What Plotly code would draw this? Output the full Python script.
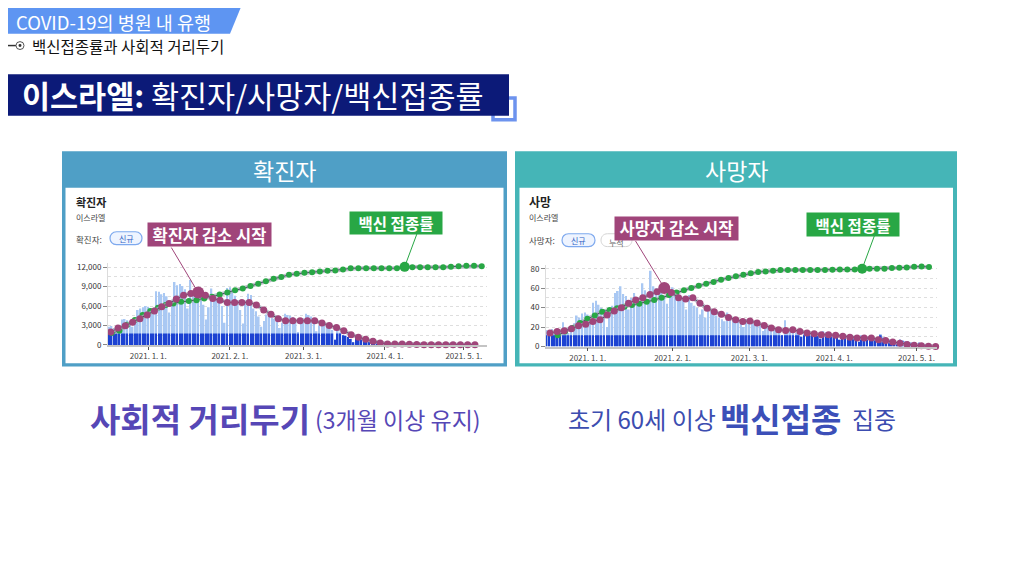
import pandas as pd
import plotly.graph_objects as go

W, H = 1024, 576
OFF = 8  # 페이지 기본 여백만큼 보정
FONT = "Noto Sans CJK KR"

PURPLE = "#a0457a"
GREEN = "#28a745"
LIGHT_BAR = "#a9c8f3"
DARK_BAR = "#1c42d2"


def X(p):
    return (p - OFF) / W


def Y(p):
    return 1 - (p - OFF) / H


# ---- 데이터 ----
day_dates = pd.date_range("2020-12-17", periods=141, freq="D")

cases_daily = [
    2800, 2900, 2600, 2200, 3000, 3900, 4000,
    3800, 3500, 2800, 3900, 5400, 5600, 5800, 6000,
    5900, 4800, 5500, 8300, 8200, 7800, 8000,
    7500, 5000, 6500, 9700, 9200, 9400, 9100,
    8600, 5600, 10000, 7500, 8200, 8800, 7600,
    6200, 3900, 5800, 8700, 7800, 7200, 6900,
    6000, 3400, 8800, 8900, 8300, 7600, 6900,
    5400, 3300, 6800, 7900, 7700, 5600, 5200,
    4400, 2800, 3700, 4700, 4500, 4200, 4000,
    3600, 2600, 3400, 4800, 4600, 4500, 4300,
    3500, 2000, 3300, 4100, 4800, 4600, 4400,
    3900, 2100, 3000, 3400, 3100, 2800, 2700,
    2300, 800, 2300, 1900, 1500, 1400, 1200,
    900, 400, 1100, 1000, 900, 800, 700,
    500, 200, 600, 500, 450, 400, 350,
    250, 100, 300, 350, 300, 280, 250,
    200, 80, 250, 230, 200, 180, 160,
    130, 50, 150, 140, 130, 120, 110,
    90, 40, 110, 100, 90, 80, 80,
    60, 30, 80, 70, 60, 60, 50,
]

cases_base = [
    1750, 1750, 1750, 1750, 1750, 1750, 1750, 1750, 1750, 1750, 1750, 1750, 1750, 1750,
    1750, 1750, 1750, 1750, 1750, 1750, 1750, 1750, 1750, 1750, 1750, 1750, 1750, 1750,
    1750, 1750, 1750, 1750, 1750, 1750, 1750, 1750, 1750, 1750, 1750, 1750, 1750, 1750,
    1750, 1750, 1750, 1750, 1750, 1750, 1750, 1750, 1750, 1750, 1750, 1750, 1750, 1750,
    1750, 1750, 1750, 1750, 1750, 1750, 1750, 1750, 1750, 1750, 1750, 1750, 1750, 1750,
    1750, 1750, 1750, 1750, 1750, 1750, 1750, 1750, 1750, 1750, 1750, 1750, 1750, 1750,
    1750, 1750,
    800, 1750, 1750, 1500, 1400, 1200,
    900, 400, 1100, 1000, 900, 800, 700,
    500, 200, 600, 500, 450, 400, 350,
    250, 100, 300, 350, 300, 280, 250,
    200, 80, 250, 230, 200, 180, 160,
    130, 50, 150, 140, 130, 120, 110,
    90, 40, 110, 100, 90, 80, 80,
    60, 30, 80, 70, 60, 60, 50,
]

deaths_daily = [
    17, 16, 18, 15, 17, 16, 25,
    18, 14, 22, 24, 32, 30, 34, 35,
    33, 28, 45, 47, 43, 40, 38,
    20, 35, 42, 55, 57, 62, 54,
    52, 38, 50, 55, 48, 45, 65,
    58, 49, 78, 62, 60, 56, 55,
    52, 44, 58, 61, 58, 55, 50,
    48, 38, 53, 45, 42, 40, 33,
    38, 30, 42, 36, 33, 32, 30,
    28, 26, 35, 30, 29, 28, 27,
    26, 20, 28, 25, 24, 23, 22,
    22, 16, 21, 20, 19, 18, 18,
    17, 12, 27, 18, 16, 15, 14,
    14, 10, 15, 14, 13, 12, 12,
    12, 8, 16, 15, 13, 12, 12,
    11, 7, 13, 12, 11, 10, 10,
    9, 5, 11, 10, 9, 8, 8,
    8, 4, 13, 9, 8, 7, 6,
    6, 3, 7, 6, 5, 5, 4,
    3, 2, 4, 3, 2, 2, 2,
]

deaths_base = [
    11.5, 11.5, 11.5, 11.5, 11.5, 11.5, 11.5, 11.5, 11.5, 11.5, 11.5, 11.5, 11.5, 11.5, 11.5,
    11.5, 11.5, 11.5, 11.5, 11.5, 11.5, 11.5, 11.5, 11.5, 11.5, 11.5, 11.5, 11.5, 11.5, 11.5,
    11.5, 11.5, 11.5, 11.5, 11.5, 11.5, 11.5, 11.5, 11.5, 11.5, 11.5, 11.5, 11.5, 11.5, 11.5,
    11.5, 11.5, 11.5, 11.5, 11.5, 11.5, 11.5, 11.5, 11.5, 11.5, 11.5, 11.5, 11.5, 11.5, 11.5,
    11.5, 11.5, 11.5, 11.5, 11.5, 11.5, 11.5, 11.5, 11.5, 11.5, 11.5, 11.5, 11.5, 11.5, 11.5,
    11.5, 11.5, 11.5, 11.5, 11.5, 11.5, 11.5, 11.5, 11.5, 11.5, 11.5, 11.5, 11.5, 11.5, 11.5,
    11.5, 11.5, 11.5,
    10, 11.5, 11.5, 11.5, 11.5, 11.5,
    11.5, 8, 11.5, 11.5, 11.5, 11.5, 11.5,
    11, 7, 11.5, 11.5, 11, 10, 10,
    9, 5, 11, 10, 9, 8, 8,
    8, 4, 11.5, 9, 8, 7, 6,
    6, 3, 7, 6, 5, 5, 4,
    3, 2, 4, 3, 2, 2, 2,
]

# 확진자 추세 (보라 점) / 백신 접종률 (초록 점, 확진자 축 기준)
cases_trend = [
    1980, 2590, 2950, 3510, 4020, 4630, 5240, 5900, 6400, 7070,
    7680, 7930, 8080, 7680, 7170, 6910, 6560, 6560, 6560, 6560,
    6150, 5390, 4730, 4020, 3710, 3710, 3710, 3710, 3710, 3360,
    3000, 2690, 2190, 1580, 1170, 860, 560, 300, 150, 150,
    150, 100, 50, 30, 30, 30, 30, 30, 20, 20, 20,
]
cases_vax = [
    1830, 2190, 3100, 3860, 4630, 5240, 5740, 6150, 6400, 6660,
    6760, 6910, 7170, 7420, 7780, 8080, 8440, 8690, 9100, 9450,
    9810, 10220, 10470, 10830, 10980, 11130, 11230, 11340, 11440, 11490,
    11640, 11840, 11840, 11840, 11840, 11840, 11840, 11840, 12050, 12000,
    12000, 12000, 12000, 12000, 12050, 12150, 12200, 12200, 12150,
]
deaths_trend = [
    13.9, 15.6, 16.3, 18.3, 21.4, 23.0, 25.8, 27.5, 32.5, 36.6,
    40.0, 44.4, 47.8, 50.2, 53.6, 56.3, 60.3, 55.6, 50.2, 48.8,
    50.2, 44.4, 39.3, 35.9, 33.2, 29.8, 27.5, 25.8, 26.4, 24.1,
    21.7, 19.0, 17.3, 16.6, 17.3, 15.6, 13.9, 13.2, 12.2, 12.2,
    11.5, 10.5, 9.5, 8.8, 8.8, 8.8, 7.1, 6.1, 4.7, 3.4,
    2.0, 1.4, 0.7, 0.3, 0.0,
]
deaths_vax = [
    11.5, 15.6, 19.0, 24.1, 28.5, 31.9, 35.9, 37.6, 39.3, 41.0,
    42.7, 44.1, 46.1, 47.8, 50.2, 52.9, 55.6, 58.0, 60.3, 62.4,
    64.7, 66.4, 68.8, 70.5, 72.2, 73.9, 75.3, 76.6, 77.3, 78.0,
    78.6, 78.6, 78.6, 78.6, 78.6, 78.6, 78.6, 79.0, 79.3, 79.3,
    79.3, 80.0, 80.0, 80.0, 80.0, 80.7, 81.0, 81.4, 82.0, 82.4, 81.7,
]

cases_trend_dates = pd.date_range("2020-12-17 17:00", "2021-05-05 05:00", periods=len(cases_trend))
cases_vax_dates = pd.date_range("2020-12-18 02:00", "2021-05-07 19:00", periods=len(cases_vax))
deaths_trend_dates = pd.date_range("2020-12-18 06:00", "2021-05-08 00:00", periods=len(deaths_trend))
deaths_vax_dates = pd.date_range("2020-12-21 01:00", "2021-05-05 14:00", periods=len(deaths_vax))

# 강조 점 (주석이 가리키는 점)
cases_peak_idx = 12
cases_vax_idx = 38
deaths_peak_idx = 16
deaths_vax_idx = 41

month_ticks = ["2021-01-01", "2021-02-01", "2021-03-01", "2021-04-01", "2021-05-01"]
month_labels = ["2021. 1. 1.", "2021. 2. 1.", "2021. 3. 1.", "2021. 4. 1.", "2021. 5. 1."]
cases_ticks = [0, 3000, 6000, 9000, 12000]
cases_tick_labels = ["0", "3,000", "6,000", "9,000", "12,000"]
deaths_ticks = [0, 20, 40, 60, 80]


def sizes(n, idx, normal, big):
    return [big if i == idx else normal for i in range(n)]


def pill(x0, y0, x1, y1):
    r = (y1 - y0) / 2
    return (
        f"M {X(x0 + r)},{Y(y0)} L {X(x1 - r)},{Y(y0)} "
        f"C {X(x1 + r * 0.33)},{Y(y0)} {X(x1 + r * 0.33)},{Y(y1)} {X(x1 - r)},{Y(y1)} "
        f"L {X(x0 + r)},{Y(y1)} "
        f"C {X(x0 - r * 0.33)},{Y(y1)} {X(x0 - r * 0.33)},{Y(y0)} {X(x0 + r)},{Y(y0)} Z"
    )


fig = go.Figure()

BAR_W = 0.62 * 86400000


def add_chart(xa, ya, daily, base, trend, trend_dates, tidx, vax, vax_dates, vidx):
    fig.add_trace(go.Bar(x=day_dates, y=daily, width=BAR_W, marker_color=LIGHT_BAR,
                         marker_line_width=0, xaxis=xa, yaxis=ya))
    fig.add_trace(go.Bar(x=day_dates, y=base, width=BAR_W, marker_color=DARK_BAR,
                         marker_line_width=0, xaxis=xa, yaxis=ya))
    # 회색 띠 + 점
    for dates, vals, color, idx, n_size, b_size in [
        (vax_dates, vax, GREEN, vidx, 6, 10),
        (trend_dates, trend, PURPLE, tidx, 7, 12),
    ]:
        fig.add_trace(go.Scatter(x=dates, y=vals, mode="lines", xaxis=xa, yaxis=ya,
                                 line=dict(color="rgba(170,172,185,0.75)", width=4),
                                 cliponaxis=False))
        fig.add_trace(go.Scatter(x=dates, y=vals, mode="lines+markers", xaxis=xa, yaxis=ya,
                                 line=dict(color="#4a4f66", width=1),
                                 marker=dict(color=color, size=sizes(len(vals), idx, n_size, b_size),
                                             line_width=0, opacity=1),
                                 cliponaxis=False))


add_chart("x", "y", cases_daily, cases_base, cases_trend, cases_trend_dates, cases_peak_idx,
          cases_vax, cases_vax_dates, cases_vax_idx)
add_chart("x2", "y2", deaths_daily, deaths_base, deaths_trend, deaths_trend_dates, deaths_peak_idx,
          deaths_vax, deaths_vax_dates, deaths_vax_idx)

xaxis_base = dict(
    type="date", showgrid=False, showline=True, linecolor="#c4c4c4", linewidth=1.5,
    ticks="outside", ticklen=3, tickcolor="#555", tickvals=month_ticks, ticktext=month_labels,
    tickfont=dict(size=8, color="#444", family=FONT), zeroline=False,
)
yaxis_base = dict(
    showgrid=True, gridcolor="#dedede", griddash="dot", zeroline=False,
    showline=True, linecolor="#dcdcdc", linewidth=1,
    ticks="outside", ticklen=4, tickcolor="#888",
    tickfont=dict(size=8, color="#333", family=FONT),
)

fig.update_layout(
    width=W, height=H, autosize=False,
    margin=dict(l=0, r=0, t=0, b=0),
    paper_bgcolor="white", plot_bgcolor="rgba(0,0,0,0)",
    showlegend=False, barmode="overlay", hovermode=False,
    font=dict(family=FONT),
    xaxis=dict(xaxis_base, domain=[X(108), X(487)], anchor="y",
               range=["2020-12-16 16:00", "2021-05-09 19:00"]),
    yaxis=dict(yaxis_base, domain=[Y(347), Y(264.4)], anchor="x", range=[0, 12600],
               tickvals=cases_ticks, ticktext=cases_tick_labels,
               minor=dict(dtick=1500, showgrid=True, gridcolor="#dedede", griddash="dot")),
    xaxis2=dict(xaxis_base, domain=[X(546), X(937)], anchor="y2",
                range=["2020-12-16 19:00", "2021-05-08 12:00"]),
    yaxis2=dict(yaxis_base, domain=[Y(348.7), Y(266)], anchor="x2", range=[0, 84],
                tickvals=deaths_ticks,
                minor=dict(dtick=10, showgrid=True, gridcolor="#dedede", griddash="dot")),
)

# ---- 도형 ----
shapes = [
    # 상단 배너
    dict(type="path", path=f"M {X(0)},{Y(0)} L {X(243)},{Y(0)} L {X(230)},{Y(32)} L {X(0)},{Y(32)} Z",
         fillcolor="#5e95f2", line_width=0),
    # 부제 표시
    dict(type="line", x0=X(0), x1=X(16), y0=Y(44), y1=Y(44), line=dict(color="#333", width=1.5)),
    dict(type="circle", x0=X(16), x1=X(24), y0=Y(40), y1=Y(48), fillcolor="white",
         line=dict(color="#555", width=1)),
    dict(type="circle", x0=X(18.5), x1=X(21.5), y0=Y(42.5), y1=Y(45.5), fillcolor="#333",
         line_width=0),
    # 제목 상자
    dict(type="rect", x0=X(493), x1=X(515), y0=Y(97), y1=Y(119), line=dict(color="#6d93ee", width=3.5)),
    dict(type="rect", x0=X(0), x1=X(509), y0=Y(73), y1=Y(115), fillcolor="#0c1a78", line_width=0),
    # 패널
    dict(type="rect", x0=X(62), x1=X(507), y0=Y(151), y1=Y(369), fillcolor="#4f9fc6",
         line_width=0, layer="below"),
    dict(type="rect", x0=X(65.5), x1=X(503.5), y0=Y(188), y1=Y(365.5), fillcolor="white",
         line_width=0, layer="below"),
    dict(type="rect", x0=X(515), x1=X(957), y0=Y(151), y1=Y(369), fillcolor="#45b5b7",
         line_width=0, layer="below"),
    dict(type="rect", x0=X(519.5), x1=X(953), y0=Y(188), y1=Y(365.5), fillcolor="white",
         line_width=0, layer="below"),
    # 버튼 모양
    dict(type="path", path=pill(110, 232.5, 142, 245.5), fillcolor="#eef4ff",
         line=dict(color="#7ea9ee", width=1.2)),
    dict(type="path", path=pill(562, 234.5, 595, 247.5), fillcolor="#eef4ff",
         line=dict(color="#7ea9ee", width=1.2)),
    dict(type="path", path=pill(601, 234.5, 632, 247.5), fillcolor="white",
         line=dict(color="#d4d4d4", width=1)),
]
for s in shapes:
    s["xref"] = "paper"
    s["yref"] = "paper"
fig.update_layout(shapes=shapes)


def text(x, y, s, size, color, anchor="left", **kw):
    fig.add_annotation(x=X(x), y=Y(y), xref="paper", yref="paper", text=s, showarrow=False,
                       xanchor=anchor, yanchor="middle",
                       font=dict(size=size, color=color, family=FONT), **kw)


def label(x, y, s, size, bg, w, h):
    fig.add_annotation(x=X(x), y=Y(y), xref="paper", yref="paper", text=f"<b>{s}</b>",
                       showarrow=False, bgcolor=bg, width=w, height=h, borderpad=2,
                       xanchor="center", yanchor="middle",
                       font=dict(size=size, color="white", family=FONT))


def pointer(xa, ya, x, y, ax, ay, color):
    fig.add_annotation(x=str(x), y=y, xref=xa, yref=ya, text=" ", ax=ax, ay=ay,
                       showarrow=True, arrowhead=0, arrowwidth=1, arrowcolor=color,
                       standoff=0, font=dict(size=1))


text(14, 20.5, "COVID-19의 병원 내 유행", 18.5, "white")
text(30, 44.5, "백신접종률과 사회적 거리두기", 15.5, "#111")
text(20, 94, "<b>이스라엘:</b> 확진자/사망자/백신접종률", 30.5, "white")

text(284.5, 170, "확진자", 23, "white", anchor="center")
text(736, 170, "사망자", 23, "white", anchor="center")

text(74, 202, "<b>확진자</b>", 11, "#222")
text(74, 218.5, "이스라엘", 8, "#444")
text(74, 239.5, "확진자:", 8.5, "#444")
text(126, 239.5, "신규", 8, "#3262c4", anchor="center")

text(527, 202, "<b>사망</b>", 12, "#222")
text(527, 218.5, "이스라엘", 8, "#444")
text(527, 241, "사망자:", 8.5, "#444")
text(578.5, 241, "신규", 8, "#3262c4", anchor="center")
text(616.5, 243, "누적", 8, "#666", anchor="center")

pointer("x", "y", cases_trend_dates[cases_peak_idx], cases_trend[cases_peak_idx], -28, -47, PURPLE)
pointer("x", "y", cases_vax_dates[cases_vax_idx], cases_vax[cases_vax_idx], 13, -35, GREEN)
pointer("x2", "y2", deaths_trend_dates[deaths_peak_idx], deaths_trend[deaths_peak_idx], -30, -49, PURPLE)
pointer("x2", "y2", deaths_vax_dates[deaths_vax_idx], deaths_vax[deaths_vax_idx], 13, -35, GREEN)

label(209, 235.5, "확진자 감소 시작", 16.5, PURPLE, 119, 19)
label(395.5, 223.3, "백신 접종률", 15.5, GREEN, 88, 18)
label(676, 229.5, "사망자 감소 시작", 16.5, PURPLE, 119, 18.5)
label(852.5, 224.7, "백신 접종률", 15.5, GREEN, 88, 19)

text(88, 421, "<b>사회적 거리두기</b>", 33, "#5647b6")
text(313, 422, "(3개월 이상 유지)", 23, "#5647b6")
text(566, 422, "초기 60세 이상", 24, "#3c4db0")
text(718, 421, "<b>백신접종</b>", 33, "#3c4fb8")
text(850, 422, "집중", 24, "#3c4db0")

fig.write_html("out.html")
